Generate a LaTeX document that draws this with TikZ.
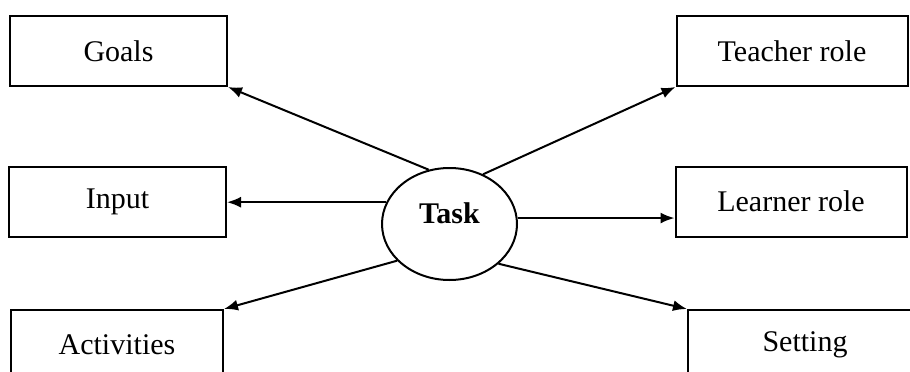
\documentclass[tikz,border=0pt]{standalone}
\usepackage{fontspec}
\setmainfont{Liberation Serif}
\usetikzlibrary{shapes.geometric,arrows.meta}

\begin{document}
\begin{tikzpicture}[
    x=1pt, y=-1pt,
    basebox/.style={
      rectangle,
      draw=black,
      line width=2pt,
      minimum height=70pt,
      inner sep=0pt,
      font=\fontsize{30}{36}\selectfont
    },
    lbox/.style={basebox, minimum width=217pt},
    rbox/.style={basebox, minimum width=231pt},
    taskell/.style={ellipse, draw=black, line width=2pt,
      minimum width=135pt, minimum height=112pt, inner sep=0pt,
      font=\fontsize{30}{36}\selectfont\bfseries},
    arr/.style={-{Latex[length=14pt, width=11pt]}, line width=2pt}
  ]
    \useasboundingbox (0,0) rectangle (910,372);

    % Nodes
    \node[taskell] (task) at (449.5,224) {\raisebox{21pt}{Task}};

    \node[lbox] (goals) at (118.5,51) {Goals};
    \node[lbox] (input) at (117.5,202) {Input};
    \node[lbox, minimum width=212pt] (activities) at (117,345) {Activities};

    \node[rbox] (teacher) at (792,51) {Teacher role};
    \node[rbox] (learner) at (791,201.5) {Learner role};
    \node[rbox, minimum width=234pt] (setting) at (805,345) {Setting};

    % Arrows
    \draw[arr] (task.111) -- (goals.south east);
    \draw[arr] (task.161) -- (task.161 -| input.east);
    \draw[arr] (task.215) -- (activities.north east);
    \draw[arr] (task.56) -- (teacher.south west);
    \draw[arr] (task.5) -- (task.5 -| learner.west);
    \draw[arr] (task.321) -- (setting.north west);

  \end{tikzpicture}
\end{document}
